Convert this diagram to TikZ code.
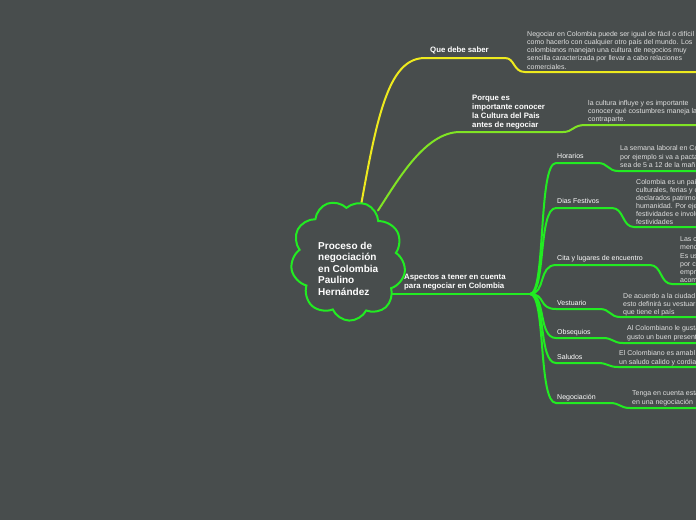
\documentclass[tikz,border=0pt]{standalone}
\usepackage{fontspec}
\setmainfont{Liberation Sans}
\usetikzlibrary{shapes.symbols}
\definecolor{bgc}{RGB}{72,77,77}
\definecolor{gr}{RGB}{34,235,34}
\definecolor{yl}{RGB}{238,234,30}
\definecolor{lm}{RGB}{128,228,36}
\definecolor{dsc}{RGB}{224,224,224}
\pgfdeclarelayer{back}
\pgfsetlayers{back,main}
\begin{document}
\begin{tikzpicture}[x=1pt,y=-1pt,
  desc/.style={anchor=north west, inner sep=0pt, align=left, text=dsc, font=\fontsize{7}{8.3}\selectfont},
  lab/.style={anchor=north west, inner sep=0pt, align=left, text=white, font=\fontsize{7}{8.3}\selectfont},
  blab/.style={anchor=north west, inner sep=0pt, align=left, text=white, font=\bfseries\fontsize{7.8}{9}\selectfont},
  conn/.style={line width=2pt, line cap=round, line join=round},
  rootcloud/.style={cloud, draw=gr, line width=2pt, fill=bgc, cloud puffs=9, cloud puff arc=130, aspect=0.93, minimum width=114pt, minimum height=121pt, inner sep=0pt, rotate=20}
]
\useasboundingbox (0,0) rectangle (696,520);
% root
\node[rootcloud] (root) at (348,260.5) {};
\node[anchor=north west, inner sep=0pt, align=left, text=white, font=\bfseries\fontsize{10}{11.4}\selectfont] (title) at (318,241.3)
  {\strut Proceso de\\negociación\\en Colombia\\Paulino\\Hernández};
% coordinates
\coordinate (hub) at (530,294);
\coordinate (qe) at (700,72);
\coordinate (pe) at (700,125);
\coordinate (e1) at (700,171);
\coordinate (e2) at (700,227);
\coordinate (e3) at (700,284);
\coordinate (e4) at (700,317);
\coordinate (e5) at (700,343);
\coordinate (e6) at (700,367);
\coordinate (e7) at (700,408);
% labels
\node[blab] (qds) at (430,45.5) {\strut Que debe saber};
\node[desc] (qdsd) at (527,30) {\strut Negociar en Colombia puede ser igual de fácil o difícil\\como hacerlo con cualquier otro país del mundo. Los\\colombianos manejan una cultura de negocios muy\\sencilla caracterizada por llevar a cabo relaciones\\comerciales.};
\node[blab, font=\bfseries\fontsize{7.8}{8.9}\selectfont] (pq) at (472,94.2) {\strut Porque es\\importante conocer\\la Cultura del Pais\\antes de negociar};
\node[desc, font=\fontsize{7}{8}\selectfont] (pqd) at (588,100) {\strut la cultura influye y es importante\\conocer qué costumbres maneja la\\contraparte.};
\node[blab] (asp) at (404,273.2) {\strut Aspectos a tener en cuenta\\para negociar en Colombia};
\node[lab] (l1) at (557,152.7) {\strut Horarios};
\node[desc] (d1) at (620,144.7) {\strut La semana laboral en Co\\por ejemplo si va a pacta\\sea de 5 a 12 de la mañ};
\node[lab] (l2) at (557,197.7) {\strut Dias Festivos};
\node[desc, font=\fontsize{7}{8}\selectfont] (d2) at (636,178.7) {\strut Colombia es un paí\\culturales, ferias y c\\declarados patrimo\\humanidad. Por eje\\festividades e involu\\festividades};
\node[lab] (l3) at (557,254.7) {\strut Cita y lugares de encuentro};
\node[desc, font=\fontsize{7}{8.2}\selectfont] (d3) at (680,235.7) {\strut Las c\\menc\\Es us\\por c\\empr\\acom};
\node[lab] (l4) at (557,299.7) {\strut Vestuario};
\node[desc, font=\fontsize{7}{8}\selectfont] (d4) at (623,292.7) {\strut De acuerdo a la ciudad\\esto definirá su vestuari\\que tiene el país};
\node[lab] (l5) at (557,328.7) {\strut Obsequios};
\node[desc] (d5) at (627,324.7) {\strut Al Colombiano le gusta\\gusto un buen present};
\node[lab] (l6) at (557,353.7) {\strut Saludos};
\node[desc] (d6) at (619,349.7) {\strut El Colombiano es amabl\\un saludo calido y cordia};
\node[lab] (l7) at (557,393.7) {\strut Negociación};
\node[desc] (d7) at (632,389.7) {\strut Tenga en cuenta esta\\en una negociación};
\begin{pgfonlayer}{back}
\fill[bgc] (0,0) rectangle (696,520);
\draw[conn, yl] (root.center) ++(13,-55) .. controls (378,110) and (390,58) .. (425,58) -- (505,58)
   .. controls (515,58) and (513,72) .. (525,72) -- (qe);
\draw[conn, lm] (root.center) ++(30,-50) .. controls (398,180) and (425,132) .. (460,132) -- (563,132)
   .. controls (573,132) and (573,125) .. (585,125) -- (pe);
\draw[conn, gr] (root.center |- hub) -- (hub);
\draw[conn, gr] (hub) .. controls (546,294) and (538,163) .. (556,163) -- (598,163)
   .. controls (608,163) and (608,171) .. (618,171) -- (e1);
\draw[conn, gr] (hub) .. controls (546,294) and (538,208) .. (556,208) -- (612,208)
   .. controls (624,208) and (622,227) .. (634,227) -- (e2);
\draw[conn, gr] (hub) .. controls (546,294) and (538,265) .. (556,265) -- (650,265)
   .. controls (662,265) and (660,284) .. (672,284) -- (e3);
\draw[conn, gr] (hub) .. controls (546,294) and (538,309) .. (556,309) -- (600,309)
   .. controls (610,309) and (610,317) .. (620,317) -- (e4);
\draw[conn, gr] (hub) .. controls (546,294) and (538,338) .. (556,338) -- (603,338)
   .. controls (613,338) and (613,343) .. (623,343) -- (e5);
\draw[conn, gr] (hub) .. controls (546,294) and (538,363) .. (556,363) -- (598,363)
   .. controls (608,363) and (608,367) .. (618,367) -- (e6);
\draw[conn, gr] (hub) .. controls (546,294) and (538,403) .. (556,403) -- (610,403)
   .. controls (620,403) and (620,408) .. (630,408) -- (e7);
\end{pgfonlayer}
\end{tikzpicture}
\end{document}
